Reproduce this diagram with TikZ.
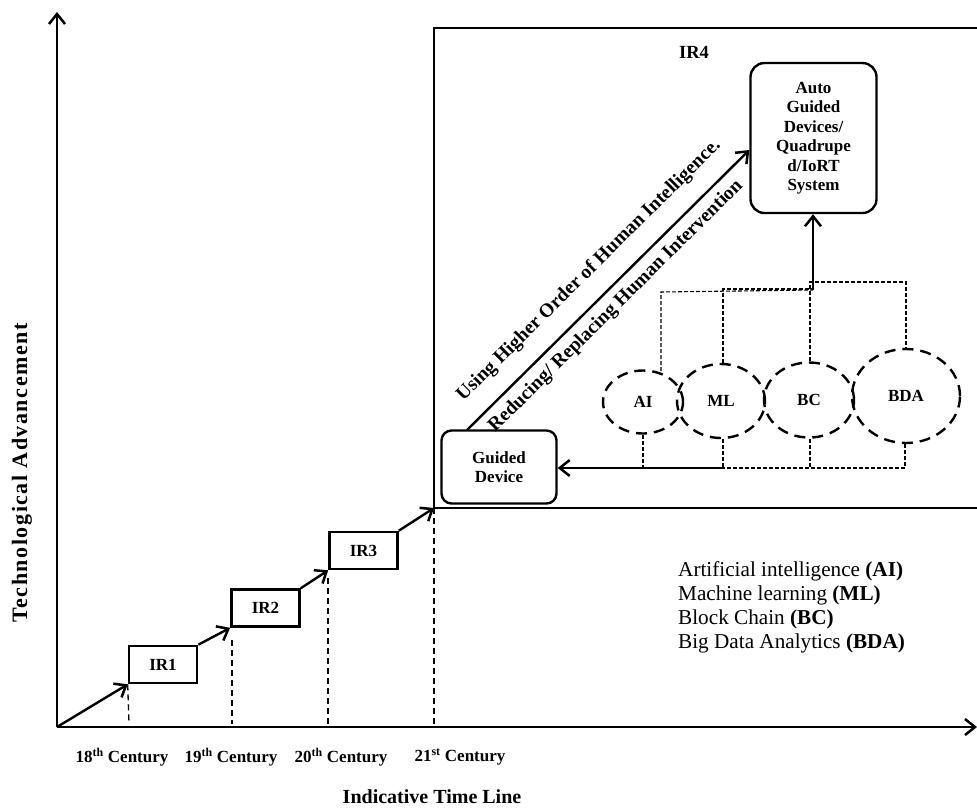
\documentclass[tikz,border=0pt]{standalone}
\usepackage{fontspec}
\setmainfont{Liberation Serif}
\usetikzlibrary{arrows.meta,shapes.geometric}
\tikzset{
  tip/.tip={Straight Barb[length=10pt,width=16pt,line width=2.5pt]},
  axisline/.style={line width=2.6pt,-tip},
  steparrow/.style={line width=2.4pt,-tip},
  irbox/.style={draw,line width=2.6pt,minimum width=68pt,minimum height=37pt,inner sep=0pt,font=\bfseries\fontsize{17}{20}\selectfont},
  rbox/.style={draw,line width=2.4pt,rounded corners=14pt,inner sep=0pt,align=center,font=\bfseries\fontsize{17}{19.5}\selectfont},
  tech/.style={ellipse,draw,line width=2.4pt,dash pattern=on 11pt off 7pt,inner sep=0pt,font=\bfseries\fontsize{17}{20}\selectfont},
  century/.style={font=\bfseries\fontsize{17}{18}\selectfont},
  guide/.style={line width=1.3pt,dash pattern=on 6pt off 4pt},
  thin/.style={line width=1.1pt,dash pattern=on 4pt off 2pt},
  slopetext/.style={midway,sloped,inner sep=0pt,font=\bfseries\fontsize{19.5}{21}\selectfont},
  legend/.style={anchor=base west,inner sep=0pt,font=\fontsize{21.2}{24}\selectfont}
}
\begin{document}
\begin{tikzpicture}[x=1pt,y=1pt]
\useasboundingbox (0,-807) rectangle (977,0);
% axes
\coordinate (O) at (57,-727);
\coordinate (ytop) at (57,-12);
\coordinate (xend) at (977,-727);
\draw[axisline] (O) -- (ytop);
\draw[axisline] (O) -- (xend);
% IR4 frame
\coordinate (c4) at (434,-508);
\coordinate (f1) at (434,-28);
\coordinate (f2) at (977,-28);
\coordinate (f3) at (977,-508);
\draw[line width=2.4pt] (f2) -- (f1) -- (c4) -- (f3);
% IR boxes
\node[irbox] (ir1) at (163,-664.5) {IR1};
\node[irbox] (ir2) at (265.5,-608) {IR2};
\node[irbox] (ir3) at (363.5,-550.5) {IR3};
\draw[steparrow] (O) -- (ir1.south west);
\draw[steparrow] (ir1.north east) -- (ir2.south west);
\draw[steparrow] (ir2.north east) -- (ir3.south west);
\draw[steparrow] (ir3.north east) -- (c4);
% dashed drops
\coordinate (d1) at (129,-724);
\coordinate (d2a) at (232,-640);
\coordinate (d2) at (232,-724);
\coordinate (d3a) at (328,-578);
\coordinate (d3) at (328,-724);
\coordinate (d4) at (434,-727);
\draw[guide] (ir1.south west) -- (d1);
\draw[guide] (d2a) -- (d2);
\draw[guide] (d3a) -- (d3);
\draw[guide] (c4) -- (d4);
% century labels
\node[century] (c18) at (122,-757) {18\textsuperscript{th} Century};
\node[century] (c19) at (231,-757) {19\textsuperscript{th} Century};
\node[century] (c20) at (341,-757) {20\textsuperscript{th} Century};
\node[century] (c21) at (460,-757) {21\textsuperscript{st} Century};
\node[font=\bfseries\fontsize{20}{22}\selectfont] (xlab) at (432,-797) {Indicative Time Line};
\node[font=\bfseries\fontsize{22}{22}\selectfont\addfontfeature{LetterSpace=7},rotate=90] (ylab) at (22,-473) {Technological Advancement};
% IR4 content
\node[font=\bfseries\fontsize{18.5}{20}\selectfont] (ir4) at (694,-52) {IR4};
\node[rbox,minimum width=126pt,minimum height=150pt] (auto) at (813.5,-138) {Auto\\Guided\\Devices/\\Quadrupe\\d/IoRT\\System};
\node[rbox,rounded corners=10pt,minimum width=115pt,minimum height=73pt] (guided) at (499,-467) {Guided\\Device};
\coordinate (gstart) at (467,-430);
\draw[line width=2.4pt,-tip] (gstart) -- (auto.west |- 0,-150)
  node[slopetext,above=17pt] (lab1) {Using Higher Order of Human Intelligence.}
  node[slopetext,below=7pt,xshift=-6pt] (lab2) {Reducing/ Replacing Human Intervention};
% ellipses
\node[tech,minimum width=80pt,minimum height=63pt] (ai) at (643,-402) {AI};
\node[tech,minimum width=88pt,minimum height=74pt] (ml) at (721,-401) {ML};
\node[tech,minimum width=90pt,minimum height=75pt] (bc) at (809,-400) {BC};
\node[tech,minimum width=108pt,minimum height=94pt] (bda) at (906,-396) {BDA};
% top connectors
\coordinate (hub) at (813,-290);
\coordinate (aiT) at (661,-292);
\coordinate (mlT) at (723,-289);
\coordinate (bcT) at (810,-282);
\coordinate (bdaT) at (906,-282);
\draw[thin] (661,-371) -- (aiT) -- (hub);
\draw[thin] (ml.north -| mlT) -- (mlT) -- (813,-289);
\draw[thin] (bc.north -| bcT) -- (bcT) -- (bdaT) -- (bda.north);
\draw[line width=2.2pt,-tip] (hub) -- (auto.south -| hub);
% bottom connectors
\coordinate (aiB) at (643,-468);
\coordinate (mlB) at (723,-468);
\coordinate (bcB) at (810,-468);
\coordinate (bdaB) at (905,-468);
\draw[thin] (ai.south) -- (aiB);
\draw[thin] (ml.south -| mlB) -- (mlB);
\draw[thin] (bc.south -| bcB) -- (bcB);
\draw[thin] (bda.south -| bdaB) -- (bdaB) -- (mlB);
\draw[line width=2.2pt,-tip] (mlB) -- (guided.east |- mlB);
% legend
\node[legend] (l1) at (678,-576) {Artificial intelligence \textbf{(AI)}};
\node[legend] (l2) at (678,-600) {Machine learning \textbf{(ML)}};
\node[legend] (l3) at (678,-624) {Block Chain \textbf{(BC)}};
\node[legend] (l4) at (678,-648.5) {Big Data Analytics \textbf{(BDA)}};
\end{tikzpicture}
\end{document}
